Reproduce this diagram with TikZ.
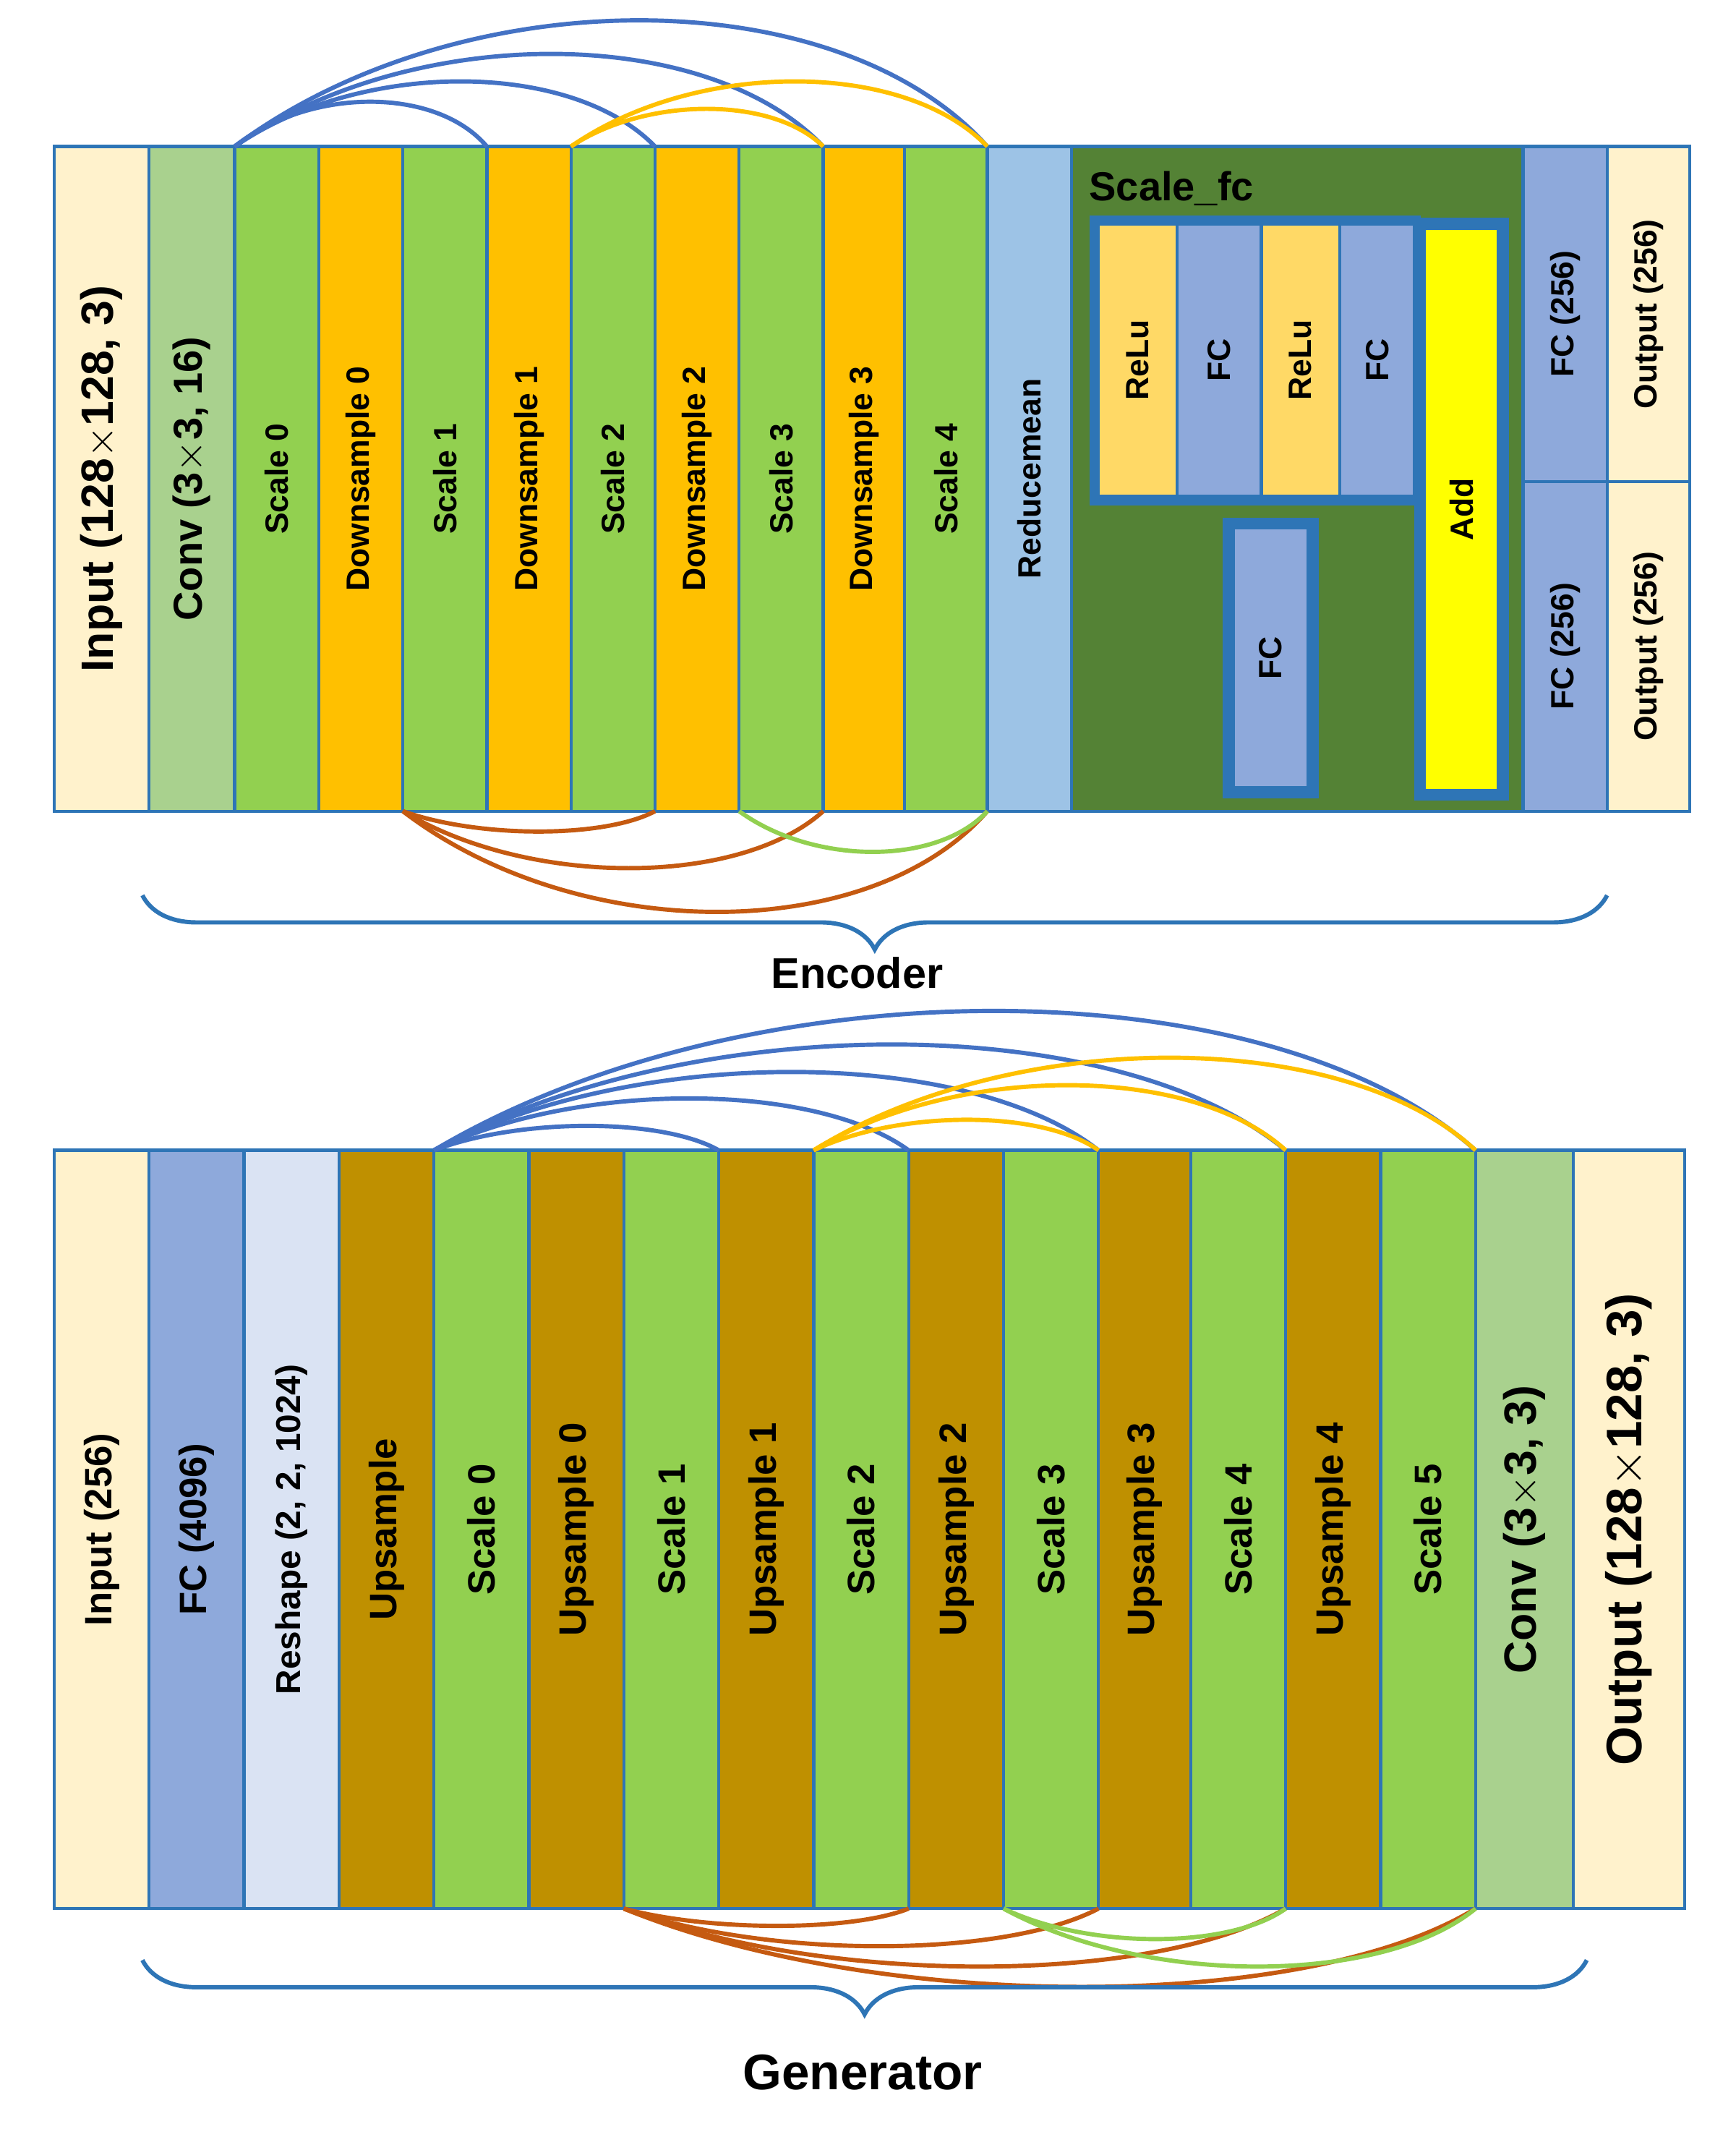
\documentclass[tikz,border=0pt]{standalone}
\usepackage{fontspec}
\setmainfont{Liberation Sans}
\usetikzlibrary{calc,decorations.pathreplacing}
\definecolor{inp}{HTML}{FFF2CC}\definecolor{cnv}{HTML}{A9D18E}\definecolor{scl}{HTML}{92D050}
\definecolor{dwn}{HTML}{FFC000}\definecolor{rmn}{HTML}{9DC3E6}\definecolor{dgr}{HTML}{548235}
\definecolor{fcc}{HTML}{8EA9DB}\definecolor{rel}{HTML}{FFD966}\definecolor{addc}{HTML}{FFFF00}
\definecolor{rsh}{HTML}{DAE3F3}\definecolor{ups}{HTML}{BF9000}\definecolor{bdr}{HTML}{2E75B6}
\definecolor{ab}{HTML}{4472C4}\definecolor{ao}{HTML}{FFC000}\definecolor{abr}{HTML}{C55A11}\definecolor{ag}{HTML}{92D050}
\tikzset{blk/.style={draw=bdr,line width=1.3pt},
lbl/.style={rotate=90,font=\bfseries\fontsize{13.5}{16}\selectfont},
glb/.style={rotate=90,font=\bfseries\fontsize{16}{19}\selectfont},
big/.style={rotate=90,font=\bfseries\fontsize{19}{22}\selectfont},
arcl/.style={line width=1.8pt},
brc/.style={draw=bdr,line width=1.8pt,decorate,decoration={brace,mirror,amplitude=0.8cm}}}
\newcommand\B[8]{\draw[blk,fill=#6] (#2,#4) rectangle (#3,#5) node[midway,#8] (#1) {#7};}
\newcommand\myarc[4]{\draw[arcl,#1] (#2) .. controls ($(#2)!0.3!(#3)+(0,#4)$) and ($(#2)!0.8!(#3)+(0,#4)$) .. (#3);}
\begin{document}
\begin{tikzpicture}[x=0.02cm,y=-0.02cm]
\useasboundingbox (0,0) rectangle (1280,1585);
% Encoder
\B{e0}{40}{110}{108}{598}{inp}{Input (128$\times$128, 3)}{big}
\B{e1}{110}{173}{108}{598}{cnv}{Conv (3$\times$3, 16)}{big,font=\bfseries\fontsize{17}{20}\selectfont}
\B{e2}{173}{235}{108}{598}{scl}{Scale 0}{lbl}
\B{e3}{235}{297}{108}{598}{dwn}{Downsample 0}{lbl}
\B{e4}{297}{359}{108}{598}{scl}{Scale 1}{lbl}
\B{e5}{359}{421}{108}{598}{dwn}{Downsample 1}{lbl}
\B{e6}{421}{483}{108}{598}{scl}{Scale 2}{lbl}
\B{e7}{483}{545}{108}{598}{dwn}{Downsample 2}{lbl}
\B{e8}{545}{607}{108}{598}{scl}{Scale 3}{lbl}
\B{e9}{607}{667}{108}{598}{dwn}{Downsample 3}{lbl}
\B{e10}{667}{728}{108}{598}{scl}{Scale 4}{lbl}
\B{e11}{728}{790}{108}{598}{rmn}{Reducemean}{lbl}
\draw[blk,fill=dgr] (790,108) rectangle (1123,598);
\node[anchor=west,font=\bfseries\fontsize{17}{20}\selectfont] (sfc) at (797,139) {Scale\_fc};
\draw[draw=bdr,line width=5pt] (808,163) rectangle (1043,368);
\B{f1}{810}{868}{165}{366}{rel}{ReLu}{lbl}
\B{f2}{868}{930}{165}{366}{fcc}{FC}{lbl}
\B{f3}{930}{988}{165}{366}{rel}{ReLu}{lbl}
\B{f4}{988}{1043}{165}{366}{fcc}{FC}{lbl}
\draw[draw=bdr,line width=5pt,fill=fcc] (906,386) rectangle (968,584) node[midway,lbl] (f5) {FC};
\draw[draw=bdr,line width=5pt,fill=addc] (1047,165) rectangle (1108,586) node[midway,lbl] (f6) {Add};
\B{e12}{1123}{1185}{108}{355}{fcc}{FC (256)}{lbl}
\B{e13}{1185}{1246}{108}{355}{inp}{Output (256)}{lbl}
\B{e14}{1123}{1185}{355}{598}{fcc}{FC (256)}{lbl}
\B{e15}{1185}{1246}{355}{598}{inp}{Output (256)}{lbl}
\foreach \n/\x in {a/173,b/359,c/421,d/483,e/607,f/728}{\coordinate (et\n) at (\x,108);}
\foreach \n/\x in {a/297,b/483,c/545,d/607,e/728}{\coordinate (eb\n) at (\x,598);}
\myarc{ab}{eta}{etb}{-44}\myarc{ab}{eta}{etd}{-64}\myarc{ab}{eta}{ete}{-91}\myarc{ab}{eta}{etf}{-124}
\myarc{ao}{etc}{ete}{-37}\myarc{ao}{etc}{etf}{-64}
\myarc{abr}{eba}{ebb}{20}\myarc{abr}{eba}{ebd}{56}\myarc{abr}{eba}{ebe}{99}\myarc{ag}{ebc}{ebe}{40}
\coordinate (br1) at (105,660);\coordinate (br2) at (1185,660);
\draw[brc] (br1) -- (br2);
\node[font=\bfseries\fontsize{18}{21}\selectfont] (enc) at (632,717) {Encoder};
% Generator
\def\gt{848}\def\gb{1407}
\B{g0}{40}{110}{\gt}{\gb}{inp}{Input (256)}{glb}
\B{g1}{110}{180}{\gt}{\gb}{fcc}{FC (4096)}{glb}
\B{g2}{180}{250}{\gt}{\gb}{rsh}{Reshape (2, 2, 1024)}{lbl,font=\bfseries\fontsize{14.5}{17}\selectfont}
\B{g3}{250}{320}{\gt}{\gb}{ups}{Upsample}{glb}
\B{g4}{320}{390}{\gt}{\gb}{scl}{Scale 0}{glb}
\B{g5}{390}{460}{\gt}{\gb}{ups}{Upsample 0}{glb}
\B{g6}{460}{530}{\gt}{\gb}{scl}{Scale 1}{glb}
\B{g7}{530}{600}{\gt}{\gb}{ups}{Upsample 1}{glb}
\B{g8}{600}{670}{\gt}{\gb}{scl}{Scale 2}{glb}
\B{g9}{670}{740}{\gt}{\gb}{ups}{Upsample 2}{glb}
\B{g10}{740}{810}{\gt}{\gb}{scl}{Scale 3}{glb}
\B{g11}{810}{878}{\gt}{\gb}{ups}{Upsample 3}{glb}
\B{g12}{878}{948}{\gt}{\gb}{scl}{Scale 4}{glb}
\B{g13}{948}{1018}{\gt}{\gb}{ups}{Upsample 4}{glb}
\B{g14}{1018}{1088}{\gt}{\gb}{scl}{Scale 5}{glb}
\B{g15}{1088}{1160}{\gt}{\gb}{cnv}{Conv (3$\times$3, 3)}{big}
\B{g16}{1160}{1242}{\gt}{\gb}{inp}{Output (128$\times$128, 3)}{big,font=\bfseries\fontsize{21}{24}\selectfont}
\foreach \n/\x in {a/320,b/530,c/600,d/670,e/810,f/948,g/1088}{\coordinate (gt\n) at (\x,\gt);}
\foreach \n/\x in {a/460,b/670,c/740,d/810,e/948,f/1088}{\coordinate (gb\n) at (\x,\gb);}
\myarc{ab}{gta}{gtb}{-24}\myarc{ab}{gta}{gtd}{-51}\myarc{ab}{gta}{gte}{-77}\myarc{ab}{gta}{gtf}{-104}\myarc{ab}{gta}{gtg}{-137}
\myarc{ao}{gtc}{gte}{-30}\myarc{ao}{gtc}{gtf}{-64}\myarc{ao}{gtc}{gtg}{-91}
\myarc{abr}{gba}{gbb}{17}\myarc{abr}{gba}{gbd}{37}\myarc{abr}{gba}{gbe}{57}\myarc{abr}{gba}{gbf}{77}
\myarc{ag}{gbc}{gbe}{30}\myarc{ag}{gbc}{gbf}{57}
\coordinate (br3) at (105,1445);\coordinate (br4) at (1170,1445);
\draw[brc] (br3) -- (br4);
\node[font=\bfseries\fontsize{21}{25}\selectfont] (gen) at (636,1528) {Generator};
\end{tikzpicture}
\end{document}
